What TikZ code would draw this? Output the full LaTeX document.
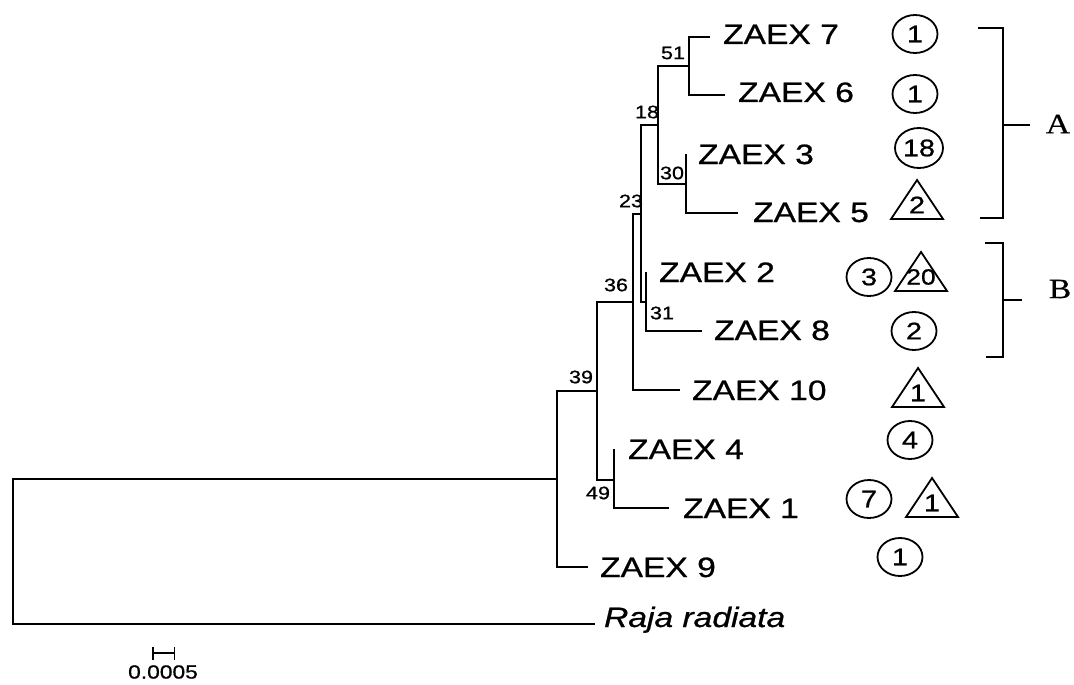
\documentclass[tikz,border=0pt]{standalone}
\usepackage{fontspec}
\setmainfont{Liberation Sans}
\newfontfamily\sx[FakeStretch=1.2,FakeBold=0.8]{Liberation Sans}
\newfontfamily\rx[FakeStretch=1.2,FakeBold=0.5]{Liberation Serif}
\usetikzlibrary{arrows.meta,shapes.geometric}
\newcommand\mytri[1]{\draw[line width=1.8pt,line join=miter] ([shift={(-26,14)}]#1.center) -- ([shift={(0,-25)}]#1.center) -- ([shift={(26,14)}]#1.center) -- cycle;}
\begin{document}
\begin{tikzpicture}[x=1pt,y=-1pt,line width=2.2pt,
  tip/.style={anchor=base west,inner sep=0pt,font=\sx\fontsize{28}{30}\selectfont},
  boot/.style={inner sep=0pt,font=\sx\fontsize{18}{19}\selectfont},
  cnum/.style={inner sep=0pt,font=\sx\fontsize{24}{26}\selectfont},
  oval/.style={draw,ellipse,minimum width=45pt,minimum height=38pt,inner sep=0pt,line width=1.8pt,font=\sx\fontsize{24}{26}\selectfont},
  grp/.style={inner sep=0pt,font=\rx\fontsize{28}{30}\selectfont},
  brk/.style={line width=1.9pt}]
\useasboundingbox (0,0) rectangle (1074,685);
% tree nodes
\coordinate (Rt) at (13,551);
\coordinate (I) at (557,479);
\coordinate (n39) at (597,391);
\coordinate (n36) at (633,302);
\coordinate (n23) at (641,214);
\coordinate (n18) at (658,125);
\coordinate (n51) at (689,66);
\coordinate (n30) at (686,184);
\coordinate (n31) at (646,302);
\coordinate (n49) at (614,480);
% tips
\coordinate (t7) at (710,37);
\coordinate (t6) at (725,95);
\coordinate (t3) at (686,154);
\coordinate (t5) at (738,213);
\coordinate (t2) at (646,272);
\coordinate (t8) at (702,331);
\coordinate (t10) at (680,390);
\coordinate (t4) at (614,449);
\coordinate (t1) at (669,508);
\coordinate (t9) at (588,567);
\coordinate (tR) at (595,624);
% branches
\draw (Rt) |- (I);
\draw (Rt) |- (tR);
\draw (I) |- (n39);
\draw (I) |- (t9);
\draw (n39) |- (n36);
\draw (n39) |- (n49);
\draw (n36) |- (n23);
\draw (n36) |- (t10);
\draw (n23) |- (n18);
\draw (n23) |- (n31);
\draw (n18) |- (n51);
\draw (n18) |- (n30);
\draw (n51) |- (t7);
\draw (n51) |- (t6);
\draw (n30) |- (t3);
\draw (n30) |- (t5);
\draw (n31) |- (t2);
\draw (n31) |- (t8);
\draw (n49) |- (t4);
\draw (n49) |- (t1);
% tip labels
\node[tip] (L7) at (722,44) {ZAEX 7};
\node[tip] (L6) at (737,102) {ZAEX 6};
\node[tip] (L3) at (697,164) {ZAEX 3};
\node[tip] (L5) at (752,222) {ZAEX 5};
\node[tip] (L2) at (658,282) {ZAEX 2};
\node[tip] (L8) at (713,340) {ZAEX 8};
\node[tip] (L10) at (691,400) {ZAEX 10};
\node[tip] (L4) at (627,459) {ZAEX 4};
\node[tip] (L1) at (682,518) {ZAEX 1};
\node[tip] (L9) at (599,577) {ZAEX 9};
\node[tip] (LR) at (603,627) {\itshape Raja radiata};
% bootstrap values
\node[boot] (b51) at (673,53) {51};
\node[boot] (b18) at (647,112) {18};
\node[boot] (b30) at (672,173) {30};
\node[boot] (b23) at (631,201) {23};
\node[boot] (b36) at (616,285) {36};
\node[boot] (b31) at (662,313) {31};
\node[boot] (b39) at (581,377) {39};
\node[boot] (b49) at (598,493) {49};
% circles
\node[oval] (c7) at (915,34) {1};
\node[oval] (c6) at (915,94) {1};
\node[oval,minimum width=48pt,minimum height=40pt] (c3) at (919,148) {18};
\node[oval] (c2) at (869,277) {3};
\node[oval] (c8) at (914,331) {2};
\node[oval] (c4) at (910,440) {4};
\node[oval] (c1) at (869,499) {7};
\node[oval] (c9) at (900,557) {1};
% triangles
\node[cnum] (d5) at (917,205) {2};
\mytri{d5}
\node[cnum,font=\sx\fontsize{22}{24}\selectfont] (d2) at (921,277) {20};
\mytri{d2}
\node[cnum] (d10) at (918,393) {1};
\mytri{d10}
\node[cnum] (d1) at (932,503) {1};
\mytri{d1}
% bracket A
\coordinate (A1) at (978,28);
\coordinate (A2) at (1003,28);
\coordinate (A3) at (1003,218);
\coordinate (A4) at (980,218);
\coordinate (Am) at (1003,125);
\coordinate (Ap) at (1030,125);
\draw[brk] (A1) -- (A2) -- (A3) -- (A4);
\draw[brk] (Am) -- (Ap);
\node[grp] (Alab) at (1058,124) {A};
% bracket B
\coordinate (B1) at (985,243);
\coordinate (B2) at (1003,243);
\coordinate (B3) at (1003,357);
\coordinate (B4) at (986,357);
\coordinate (Bm) at (1003,300);
\coordinate (Bp) at (1022,300);
\draw[brk] (B1) -- (B2) -- (B3) -- (B4);
\draw[brk] (Bm) -- (Bp);
\node[grp] (Blab) at (1060,289) {B};
% scale bar
\coordinate (s1) at (152,653);
\coordinate (s2) at (175,653);
\draw[line width=1.5pt,{Bar[width=13pt]}-{Bar[width=13pt]}] (s1) -- (s2);
\node[inner sep=0pt,font=\sx\fontsize{19}{20}\selectfont] (slab) at (163,672) {0.0005};
\end{tikzpicture}
\end{document}
